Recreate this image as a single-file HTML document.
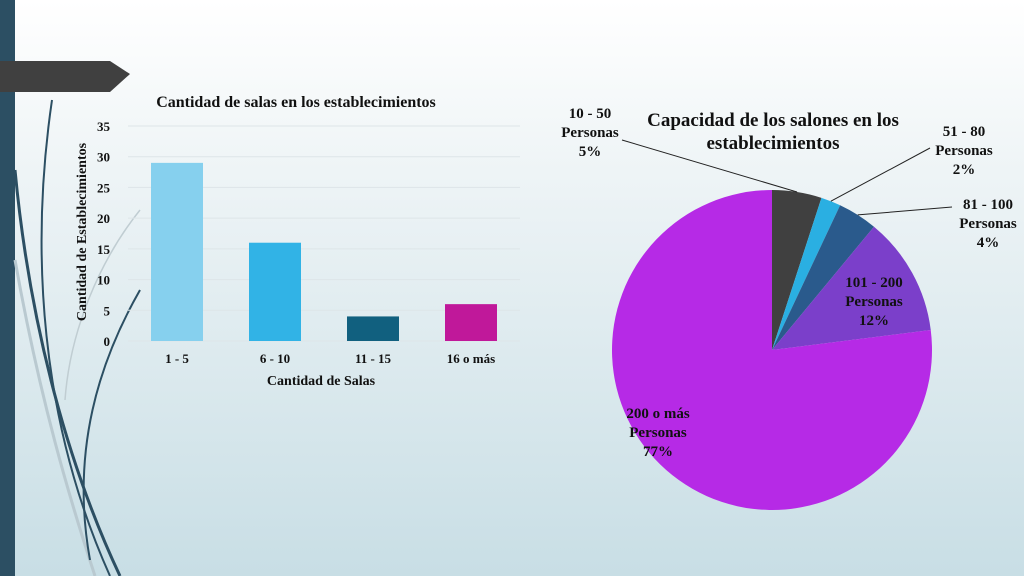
<!DOCTYPE html>
<html><head><meta charset="utf-8"><style>
html,body{margin:0;padding:0}
body{width:1024px;height:576px;overflow:hidden;background:linear-gradient(#ffffff 0%,#eef4f6 30%,#c8dee5 100%);font-family:"Liberation Serif",serif;position:relative}
svg{position:absolute;left:0;top:0}
text{font-family:"Liberation Serif",serif;font-weight:bold;fill:#111}
</style></head><body>
<svg width="1024" height="576">
<rect x="0" y="0" width="15" height="576" fill="#2c4f63"/>
<g fill="none">
<path d="M52 100 C30 250 40 420 110 576" stroke="#2c4f63" stroke-width="2"/>
<path d="M15 170 C30 330 70 470 120 576" stroke="#2c4f63" stroke-width="3"/>
<path d="M15 260 C40 400 70 500 95 576" stroke="#b9c9d0" stroke-width="3"/>
<path d="M140 290 C100 360 70 450 90 560" stroke="#2c4f63" stroke-width="2"/>
<path d="M140 210 C100 260 70 330 65 400" stroke="#c0cdd2" stroke-width="1.5"/>
</g>
<polygon points="0,61 110,61 130,74 110,92 0,92" fill="#404040"/>
<g id="bar"></g>
<g id="pie"></g>
</svg>
<script>
const categories=["1 - 5","6 - 10","11 - 15","16 o más"];
const values=[29,16,4,6];
const barColors=["#86d0ee","#31b3e6","#11607f","#c0189a"];
const yTicks=[0,5,10,15,20,25,30,35];
const sliceLabels=[["10 - 50","Personas","5%"],["51 - 80","Personas","2%"],["81 - 100","Personas","4%"],["101 - 200","Personas","12%"],["200 o más","Personas","77%"]];
const sliceValues=[5,2,4,12,77];
const sliceColors=["#404040","#2aafe2","#2a5a8c","#7b3fca","#b62ae6"];
const NS="http://www.w3.org/2000/svg";
function mk(p,t,a){const e=document.createElementNS(NS,t);for(const k in a)e.setAttribute(k,a[k]);p.appendChild(e);return e;}
const bar=document.getElementById('bar');
const y0=341,pxU=(341-126)/35;
const yS=v=>y0-v*pxU;
const xL=128,xR=520,band=(xR-xL)/categories.length;
const xS=i=>xL+band*i+band/2;
yTicks.forEach(t=>{
 const l=mk(bar,'line',{x1:xL,x2:xR,y1:yS(t),y2:yS(t),stroke:'#dde5e8','stroke-width':1});
 
 
 const tx=mk(bar,'text',{x:110,y:yS(t)+5,'text-anchor':'end','font-size':13});
 tx.textContent=t;
 
 
});
values.forEach((v,i)=>{
 const r=mk(bar,'rect',{x:xS(i)-26,y:yS(v),width:52,height:y0-yS(v),fill:barColors[i]});
 
 
 const t=mk(bar,'text',{x:xS(i),y:363,'text-anchor':'middle','font-size':13});
 t.textContent=categories[i];
 
 
});
let t=mk(bar,'text',{x:296,y:107,'text-anchor':'middle','font-size':16});t.textContent="Cantidad de salas en los establecimientos";


t=mk(bar,'text',{x:321,y:385,'text-anchor':'middle','font-size':14});t.textContent="Cantidad de Salas";


t=mk(bar,'text',{x:0,y:0,'text-anchor':'middle','font-size':14,transform:'translate(86,232) rotate(-90)'});t.textContent="Cantidad de Establecimientos";



const pie=document.getElementById('pie');
const cx=772,cy=350,R=160;
const total=sliceValues.reduce((a,b)=>a+b,0);
const labelPos=[[590,118,'middle'],[964,136,'middle'],[988,209,'middle'],[874,287,'middle'],[658,418,'middle']];
const leaderEnd=[[622,140],[930,148],[952,207],null,null];
let acc=0;
sliceValues.forEach((v,i)=>{
 const a0=acc/total*2*Math.PI;acc+=v;const a1=acc/total*2*Math.PI;
 const p=a=>[cx+R*Math.sin(a),cy-R*Math.cos(a)];
 const [x0,y0_]=p(a0),[x1,y1]=p(a1);
 const large=(a1-a0)>Math.PI?1:0;
 const s=mk(pie,'path',{d:`M${cx},${cy} L${x0},${y0_} A${R},${R} 0 ${large} 1 ${x1},${y1} Z`,fill:sliceColors[i]});
 
 
 if(leaderEnd[i]){
  const [mx,my]=p((a0+a1)/2);
  const l=mk(pie,'line',{x1:mx,y1:my,x2:leaderEnd[i][0],y2:leaderEnd[i][1],stroke:'#222','stroke-width':1});
  
  
 }
 const [lx,ly,an]=labelPos[i];
 sliceLabels[i].forEach((s2,j)=>{
  const tt=mk(pie,'text',{x:lx,y:ly+j*19,'text-anchor':an,'font-size':15});
  tt.textContent=s2;
  
  
 });
});
t=mk(pie,'text',{x:773,y:126,'text-anchor':'middle','font-size':19});t.textContent="Capacidad de los salones en los";


t=mk(pie,'text',{x:773,y:149,'text-anchor':'middle','font-size':19});t.textContent="establecimientos";


</script>
</body></html>
